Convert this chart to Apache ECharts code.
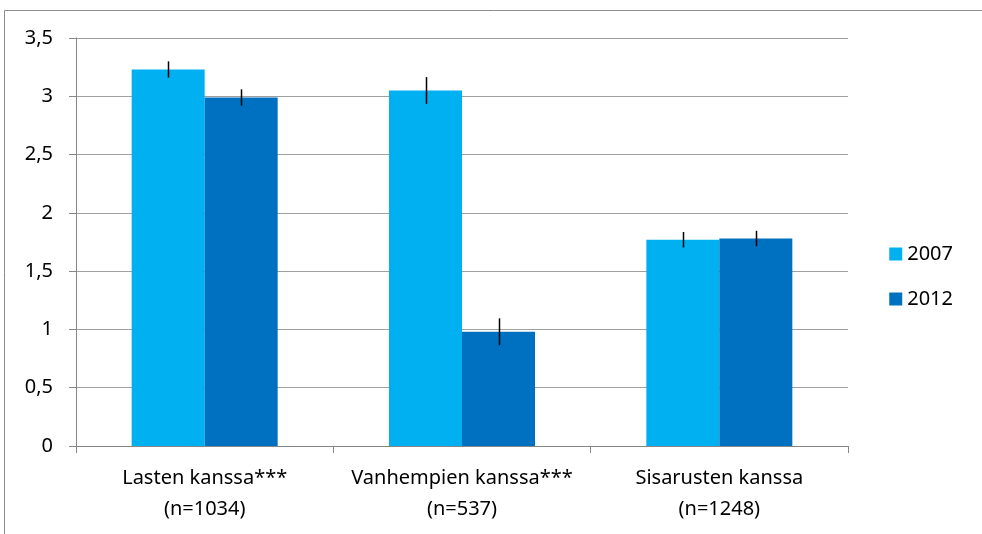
<!DOCTYPE html>
<html>
<head>
<meta charset="utf-8">
<script src="https://cdn.jsdelivr.net/npm/echarts@6/dist/echarts.min.js"></script>
<style>html,body{margin:0;padding:0;background:#fff}#c{width:982px;height:534px}</style>
</head>
<body>
<div id="c"></div>
<script>
var categories = ['Lasten kanssa***\n(n=1034)', 'Vanhempien kanssa***\n(n=537)', 'Sisarusten kanssa\n(n=1248)'];
var seriesNames = ['2007', '2012'];
var values2007 = [3.23, 3.05, 1.77];
var values2012 = [2.99, 0.98, 1.78];
var err2007 = [0.07, 0.115, 0.066];
var err2012 = [0.07, 0.115, 0.066];

var chart = echarts.init(document.getElementById('c'), null, {renderer: 'canvas'});
var FONT = 'Noto Sans';
var FS = 20;
var BARW = 73;

function errSeries(vals, errs, side, name) {
  return {
    type: 'custom',
    name: name + ' err',
    z: 10,
    silent: true,
    data: vals.map(function (v, i) { return [i, v - errs[i], v + errs[i]]; }),
    renderItem: function (params, api) {
      var lo = api.coord([api.value(0), api.value(1)]);
      var hi = api.coord([api.value(0), api.value(2)]);
      var x = Math.round(lo[0] + side * BARW / 2) + 0.5;
      return {
        type: 'line',
        shape: {x1: x, y1: hi[1], x2: x, y2: lo[1]},
        style: {stroke: '#000', lineWidth: 1.5}
      };
    }
  };
}

chart.setOption({
  animation: false,
  backgroundColor: '#fff',
  grid: {left: 76, right: 134, top: 38, bottom: 88},
  legend: {
    orient: 'vertical',
    right: 24,
    top: 239,
    itemWidth: 13,
    itemHeight: 13,
    itemGap: 25,
    icon: 'rect',
    data: seriesNames,
    textStyle: {fontFamily: FONT, fontSize: FS, color: '#000'}
  },
  xAxis: {
    type: 'category',
    data: categories,
    axisLine: {lineStyle: {color: '#868686', width: 1}},
    axisTick: {show: true, length: 7, lineStyle: {color: '#868686'}},
    axisLabel: {fontFamily: FONT, fontSize: FS, color: '#000', lineHeight: 31, margin: 17, interval: 0, hideOverlap: false}
  },
  yAxis: {
    type: 'value',
    min: 0, max: 3.5, interval: 0.5,
    axisLine: {show: true, lineStyle: {color: '#868686'}},
    axisTick: {show: true, length: 7, lineStyle: {color: '#868686'}},
    splitLine: {lineStyle: {color: '#a0a0a0', width: 1}},
    axisLabel: {
      fontFamily: FONT, fontSize: FS, color: '#000', margin: 23,
      formatter: function (v) { return String(v).replace('.', ','); }
    }
  },
  series: [
    {name: '2007', type: 'bar', data: values2007, barWidth: BARW, barGap: '0%', itemStyle: {color: '#00B0F0'}},
    {name: '2012', type: 'bar', data: values2012, barWidth: BARW, barGap: '0%', itemStyle: {color: '#0070C0'}},
    errSeries(values2007, err2007, -1, '2007'),
    errSeries(values2012, err2012, 1, '2012')
  ],
  graphic: [
    {type: 'line', shape: {x1: 4.5, y1: 10.5, x2: 982, y2: 10.5}, style: {stroke: '#8c8c8c', lineWidth: 1}},
    {type: 'line', shape: {x1: 4.5, y1: 10.5, x2: 4.5, y2: 534}, style: {stroke: '#8c8c8c', lineWidth: 1}}
  ]
});
</script>
</body>
</html>
